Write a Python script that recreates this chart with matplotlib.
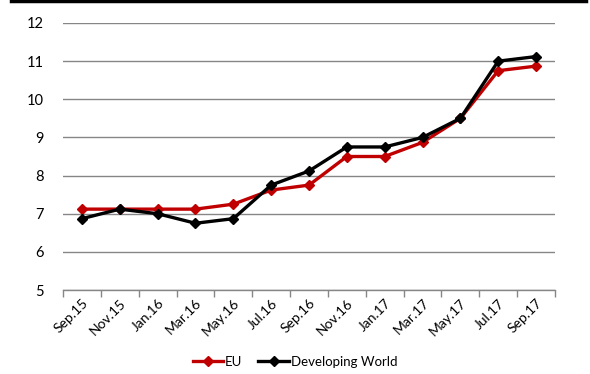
import matplotlib
matplotlib.use("Agg")
import matplotlib.pyplot as plt
import numpy as np
from matplotlib.lines import Line2D

months = ["Sep.15", "Nov.15", "Jan.16", "Mar.16", "May.16", "Jul.16", "Sep.16",
          "Nov.16", "Jan.17", "Mar.17", "May.17", "Jul.17", "Sep.17"]
eu = [7.12, 7.12, 7.12, 7.12, 7.25, 7.62, 7.75, 8.5, 8.5, 8.87, 9.5, 10.75, 10.87]
developing = [6.87, 7.12, 7.0, 6.75, 6.87, 7.75, 8.12, 8.75, 8.75, 9.0, 9.5, 11.0, 11.12]
y_ticks = [5, 6, 7, 8, 9, 10, 11, 12]

RED = "#c00000"
GRID = "#868686"

plt.rcParams["font.family"] = ["Lato", "DejaVu Sans"]
plt.rcParams["font.size"] = 10

fig = plt.figure(figsize=(5.9, 3.74), dpi=100)
ax = fig.add_axes([63 / 590, 1 - 290 / 374, 492 / 590, 267 / 374])

x = np.arange(len(months))
ax.plot(x, eu, color=RED, lw=2.4, marker="D", ms=5.5, zorder=3)
ax.plot(x, developing, color="black", lw=2.4, marker="D", ms=5.5, zorder=4)

ax.set_xlim(-0.5, len(months) - 0.5)
ax.set_ylim(5, 12)
ax.set_yticks(y_ticks)
ax.grid(True, axis="y", color=GRID, lw=1)
ax.set_axisbelow(True)

ax.set_xticks(np.arange(len(months) + 1) - 0.5)
ax.set_xticklabels([])
ax.set_xticks(x, minor=True)
ax.set_xticklabels(months, minor=True, rotation=45, ha="right", rotation_mode="anchor")
ax.tick_params(axis="x", which="major", length=5, color=GRID, width=1)
ax.tick_params(axis="x", which="minor", length=0, pad=5, labelsize=10)
ax.tick_params(axis="y", length=0, pad=14, labelsize=10.5)

for s in ["top", "right", "left"]:
    ax.spines[s].set_visible(False)
ax.spines["bottom"].set_color(GRID)
ax.spines["bottom"].set_linewidth(1)

handles = [Line2D([], [], color=RED, lw=2.4, marker="D", ms=5.5),
           Line2D([], [], color="black", lw=2.4, marker="D", ms=5.5)]
fig.legend(handles, ["EU", "Developing World"], loc="center", bbox_to_anchor=(0.5, 1 - 362 / 374),
           ncol=2, frameon=False, handlelength=2.3, handletextpad=0.15, columnspacing=1.2, fontsize=9.5)

fig.add_artist(Line2D([11 / 590, 586 / 590], [1 - 1 / 374, 1 - 1 / 374], color="black", lw=2.5))

fig.savefig("out.png", dpi=100, facecolor="white")
